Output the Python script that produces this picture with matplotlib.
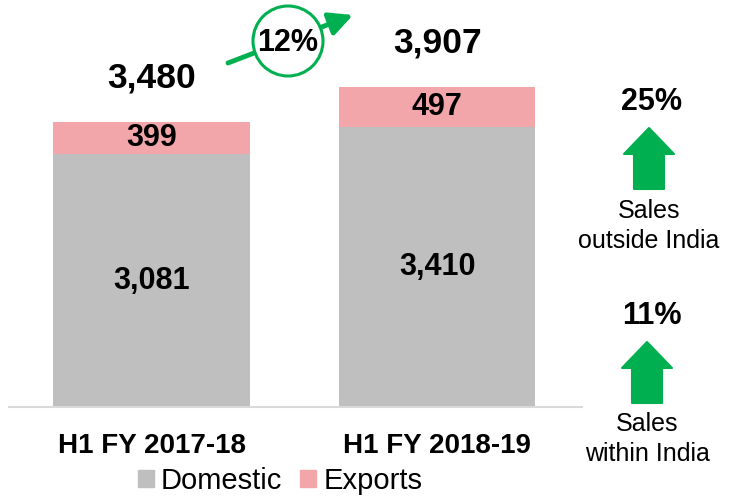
import matplotlib
matplotlib.use("Agg")
import matplotlib.pyplot as plt
from matplotlib.patches import Circle, Polygon, FancyArrowPatch, Patch

plt.rcParams['font.family'] = ['Liberation Sans', 'DejaVu Sans']

# sales volumes, H1 comparison
periods = ['H1 FY 2017-18', 'H1 FY 2018-19']
domestic = [3081, 3410]
exports = [399, 497]
totals = [d + e for d, e in zip(domestic, exports)]

total_growth = (totals[1] / totals[0] - 1) * 100
export_growth = (exports[1] / exports[0] - 1) * 100
domestic_growth = (domestic[1] / domestic[0] - 1) * 100

GREY = '#BFBFBF'
PINK = '#F2A6AA'
GREEN = '#00B050'

W, H = 729, 496
fig = plt.figure(figsize=(W / 100, H / 100), dpi=100)

ax = fig.add_axes([9 / W, 89 / H, 573 / W, 407 / H])
x = range(len(periods))
ax.bar(x, domestic, width=0.69, color=GREY)
ax.bar(x, exports, bottom=domestic, width=0.69, color=PINK)
ax.set_xlim(-0.5, 1.508)
ax.set_ylim(0, 4963)

for i in x:
    ax.text(i, domestic[i] / 2, f'{domestic[i]:,}', ha='center', va='center',
            fontsize=22, fontweight='bold')
    ax.text(i, domestic[i] + exports[i] / 2, f'{exports[i]:,}', ha='center',
            va='center', fontsize=22, fontweight='bold')
    ax.text(i, totals[i] + 530, f'{totals[i]:,}', ha='center', va='center',
            fontsize=25.5, fontweight='bold')

for s in ['top', 'right', 'left']:
    ax.spines[s].set_visible(False)
ax.spines['bottom'].set_color('#D9D9D9')
ax.spines['bottom'].set_linewidth(1.5)
ax.set_yticks([])
ax.set_xticks(list(x))
ax.set_xticklabels(periods, fontsize=20, fontweight='bold')
ax.tick_params(axis='x', length=0, pad=19)

handles = [Patch(color=GREY, label='Domestic'), Patch(color=PINK, label='Exports')]
fig.legend(handles=handles, loc='center', bbox_to_anchor=(280 / W, 1 - 481 / H),
           ncol=2, frameon=False, fontsize=21, handlelength=0.55,
           handleheight=0.55, handletextpad=0.25, columnspacing=0.6,
           borderpad=0.1)

# annotation layer in pixel coordinates
ov = fig.add_axes([0, 0, 1, 1], zorder=5)
ov.set_xlim(0, W)
ov.set_ylim(H, 0)
ov.axis('off')

ov.add_patch(FancyArrowPatch((228, 63), (353, 15),
                             arrowstyle='-|>,head_length=14,head_width=7',
                             mutation_scale=1, color=GREEN, lw=3.5,
                             shrinkA=0, shrinkB=0))
ov.add_patch(Circle((288, 41), 35, facecolor='white', edgecolor=GREEN, lw=2.2))
ov.text(288, 43, f'{total_growth:.0f}%', ha='center', va='center',
        fontsize=22, fontweight='bold')


def up_arrow(cx, top):
    pts = [(cx, top), (cx + 25, top + 26), (cx + 15, top + 26), (cx + 15, top + 61),
           (cx - 15, top + 61), (cx - 15, top + 26), (cx - 25, top + 26)]
    ov.add_patch(Polygon(pts, closed=True, facecolor=GREEN, edgecolor=GREEN,
                         lw=1.5, joinstyle='round'))


ov.text(652, 102, f'{export_growth:.0f}%', ha='center', va='center',
        fontsize=22, fontweight='bold')
up_arrow(649, 128)
ov.text(649, 226, 'Sales\noutside India', ha='center', va='center',
        fontsize=18, linespacing=1.28)

ov.text(652, 316, f'{domestic_growth:.0f}%', ha='center', va='center',
        fontsize=22, fontweight='bold')
up_arrow(647, 342)
ov.text(647, 439, 'Sales\nwithin India', ha='center', va='center',
        fontsize=18, linespacing=1.28)

fig.savefig('out.png', dpi=100)
